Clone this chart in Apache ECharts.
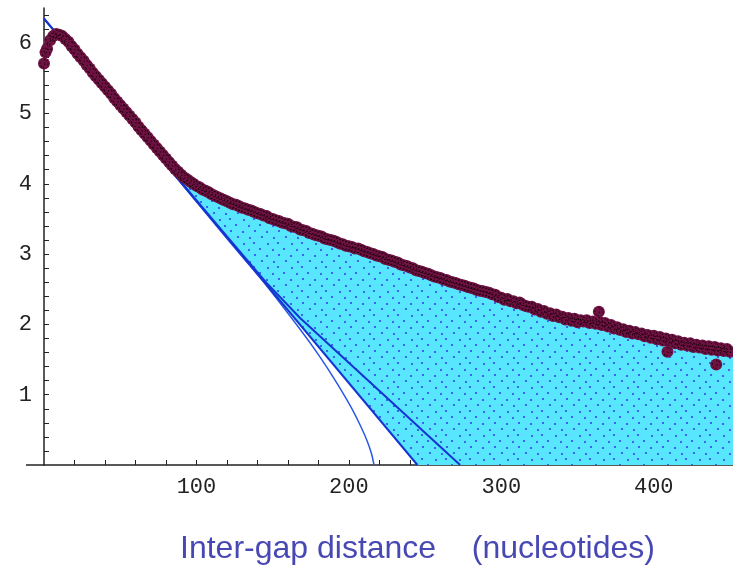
<!DOCTYPE html>
<html><head><meta charset="utf-8">
<script src="https://cdn.jsdelivr.net/npm/echarts@6/dist/echarts.min.js"></script>
<style>html,body{margin:0;padding:0;background:#fff}#c{width:733px;height:567px}</style>
</head><body><div id="c"></div>
<script>
// ---- data ----
const distance = [
0,2,4,6,8,10,12,14,16,18,
20,22,24,26,28,30,32,34,36,38,
40,42,44,46,48,50,52,54,56,58,
60,62,64,66,68,70,72,74,76,78,
80,82,84,86,88,90,92,94,96,98,
100,102,104,106,108,110,112,114,116,118,
120,122,124,126,128,130,132,134,136,138,
140,142,144,146,148,150,152,154,156,158,
160,162,164,166,168,170,172,174,176,178,
180,182,184,186,188,190,192,194,196,198,
200,202,204,206,208,210,212,214,216,218,
220,222,224,226,228,230,232,234,236,238,
240,242,244,246,248,250,252,254,256,258,
260,262,264,266,268,270,272,274,276,278,
280,282,284,286,288,290,292,294,296,298,
300,302,304,306,308,310,312,314,316,318,
320,322,324,326,328,330,332,334,336,338,
340,342,344,346,348,350,352,354,356,358,
360,362,364,366,368,370,372,374,376,378,
380,382,384,386,388,390,392,394,396,398,
400,402,404,406,408,410,412,414,416,418,
420,422,424,426,428,430,432,434,436,438,
440,442,444,446,448,450];
const signal = [
5.71,5.92,6.04,6.10,6.13,6.12,6.10,6.06,6.02,5.96,
5.91,5.85,5.80,5.75,5.69,5.64,5.58,5.53,5.48,5.43,
5.38,5.33,5.28,5.22,5.17,5.12,5.07,5.02,4.97,4.92,
4.87,4.81,4.76,4.71,4.66,4.61,4.56,4.51,4.46,4.41,
4.36,4.31,4.26,4.21,4.17,4.13,4.09,4.06,4.03,4.00,
3.97,3.95,3.92,3.90,3.88,3.85,3.83,3.81,3.79,3.77,
3.75,3.73,3.71,3.70,3.68,3.66,3.65,3.63,3.62,3.60,
3.58,3.57,3.55,3.54,3.51,3.50,3.48,3.47,3.45,3.44,
3.43,3.40,3.39,3.38,3.35,3.34,3.33,3.30,3.29,3.27,
3.26,3.25,3.22,3.21,3.20,3.19,3.17,3.15,3.14,3.12,
3.11,3.10,3.08,3.08,3.06,3.04,3.03,3.01,3.00,2.98,
2.97,2.96,2.93,2.92,2.91,2.89,2.88,2.85,2.84,2.83,
2.81,2.80,2.77,2.76,2.75,2.73,2.72,2.70,2.68,2.67,
2.66,2.64,2.63,2.61,2.60,2.59,2.57,2.56,2.55,2.53,
2.52,2.51,2.49,2.48,2.47,2.46,2.45,2.43,2.42,2.39,
2.38,2.35,2.36,2.33,2.33,2.30,2.31,2.28,2.26,2.25,
2.25,2.21,2.22,2.18,2.19,2.15,2.16,2.12,2.14,2.10,
2.11,2.07,2.09,2.05,2.08,2.03,2.06,2.04,2.06,2.02,
2.04,2.01,2.04,1.99,2.02,1.97,1.99,1.94,1.96,1.92,
1.93,1.89,1.91,1.87,1.89,1.86,1.87,1.83,1.85,1.81,
1.84,1.79,1.82,1.77,1.80,1.76,1.78,1.73,1.76,1.71,
1.74,1.70,1.73,1.68,1.71,1.67,1.70,1.65,1.69,1.64,
1.68,1.63,1.66,1.62,1.65,1.61];
const outlierDistance = [1, 364, 409, 441];
const outlierSignal = [5.87, 2.18, 1.61, 1.43];

// three fitted curves
const fitA_x = [0, 83, 120, 146, 168, 273];
const fitA_y = [6.35, 4.20, 3.25, 2.59, 2.09, 0];
const fitB_x = [0, 245];
const fitB_y = [6.35, 0];
const fitC_x = [0, 83, 120, 146, 168, 180, 190, 197, 203, 208, 212, 215, 216.5];
const fitC_y = [6.35, 4.19, 3.22, 2.55, 1.93, 1.57, 1.24, 0.99, 0.76, 0.54, 0.34, 0.15, 0];

const fillStart = 82;           // where the shaded region begins
const xTicks = [20,40,60,80,100,120,140,160,180,200,220,240,260,280,300,320,340,360,380,400,420,440];
const xLabels = [100,200,300,400];
const yTicks = [0.2,0.4,0.6,0.8,1,1.2,1.4,1.6,1.8,2,2.2,2.4,2.6,2.8,3,3.2,3.4,3.6,3.8,4,4.2,4.4,4.6,4.8,5,5.2,5.4,5.6,5.8,6,6.2,6.4];
const yLabels = [1,2,3,4,5,6];
const axisTitle = 'Inter-gap distance    (nucleotides)';

// ---- helpers ----
const pairs = (xs, ys) => xs.map((x, i) => [x, ys[i]]);
function interp(xs, ys, x) {
  for (let i = 1; i < xs.length; i++) {
    if (x <= xs[i]) { const t = (x - xs[i-1]) / (xs[i] - xs[i-1]); return ys[i-1] + t * (ys[i] - ys[i-1]); }
  }
  return ys[ys.length - 1];
}
const X_MAX = 452, Y_MAX = 6.5;

function makePattern() {
  const c = document.createElement('canvas'); c.width = 24; c.height = 24;
  const g = c.getContext('2d');
  g.fillStyle = '#58e6ff'; g.fillRect(0, 0, 24, 24);
  g.fillStyle = '#3a66f0';
  [[3,3],[13,2],[8,9],[19,8],[2,15],[14,14],[9,21],[21,20]].forEach(p => g.fillRect(p[0], p[1], 2, 2));
  return c;
}
const pattern = makePattern();

// polygon of the shaded region: band on top, fit B below, x-axis to the right
const topEdge = [];
distance.forEach((x, i) => { if (x >= fillStart) topEdge.push([x, signal[i]]); });
topEdge.push([X_MAX, signal[signal.length - 1]]);
const bottomEdge = [[X_MAX, 0], [fitB_x[1], 0], [fillStart, interp(fitB_x, fitB_y, fillStart)]];

// speckle glyph drawn over each marker (small dark squares)
const speckle = 'path://M1,4h1v1h-1z M5,1h1v1h-1z M8,5h1v1h-1z M4,8h1v1h-1z M5,5h1v1h-1z M2,7h1v1h-1z M7,2h1v1h-1z';

const chart = echarts.init(document.getElementById('c'), null, {renderer: 'canvas'});
const axisColor = '#222';
const monoFont = 'Liberation Mono';
const allPoints = pairs(distance, signal).concat(pairs(outlierDistance, outlierSignal));
chart.setOption({
  animation: false,
  backgroundColor: '#fff',
  title: {
    text: axisTitle, left: 180, top: 533, padding: 0,
    textStyle: {fontFamily: 'Liberation Sans', fontSize: 32, fontWeight: 'normal', color: '#4848b4'}
  },
  grid: {left: 44, right: 0, top: 8, bottom: 102, containLabel: false},
  xAxis: {
    type: 'value', min: 0, max: X_MAX,
    axisLine: {show: true, onZero: false, lineStyle: {color: axisColor, width: 1.5}},
    splitLine: {show: false},
    axisTick: {show: true, inside: true, length: 5, customValues: xTicks, lineStyle: {color: axisColor}},
    axisLabel: {customValues: xLabels, fontFamily: monoFont, fontSize: 22, color: axisColor, margin: 11}
  },
  yAxis: {
    type: 'value', min: 0, max: Y_MAX,
    axisLine: {show: true, onZero: false, lineStyle: {color: axisColor, width: 1.5}},
    splitLine: {show: false},
    axisTick: {show: true, inside: true, length: 5, customValues: yTicks, lineStyle: {color: axisColor}},
    axisLabel: {customValues: yLabels, fontFamily: monoFont, fontSize: 22, color: axisColor, margin: 12}
  },
  graphic: [{
    type: 'line', z: 100, shape: {x1: 26, y1: 465, x2: 44, y2: 465},
    style: {stroke: axisColor, lineWidth: 1.5}
  }],
  series: [
    {
      type: 'custom', z: 1, silent: true, data: [[0, 0]],
      renderItem: (params, api) => {
        const pts = topEdge.map(p => api.coord(p)).concat(bottomEdge.map(p => api.coord(p)));
        return {type: 'polygon', shape: {points: pts}, style: {fill: {image: pattern, repeat: 'repeat'}, stroke: null}};
      }
    },
    {type: 'line', z: 2, data: pairs(fitC_x, fitC_y), showSymbol: false, symbol: 'none', smooth: 0.2,
     lineStyle: {color: '#2a58e6', width: 1.5}},
    {type: 'line', z: 2, data: pairs(fitB_x, fitB_y), showSymbol: false, symbol: 'none',
     lineStyle: {color: '#1535d0', width: 2}},
    {type: 'line', z: 2, data: pairs(fitA_x, fitA_y), showSymbol: false, symbol: 'none',
     lineStyle: {color: '#1535d0', width: 2}},
    {type: 'scatter', z: 3, symbol: 'circle', symbolSize: 12,
     data: allPoints, itemStyle: {color: '#6d1242', opacity: 1}},
    {type: 'scatter', z: 4, symbol: speckle, symbolSize: [9, 9], symbolKeepAspect: true,
     data: allPoints, itemStyle: {color: '#1a0008', opacity: 1}}
  ]
});
</script></body></html>
